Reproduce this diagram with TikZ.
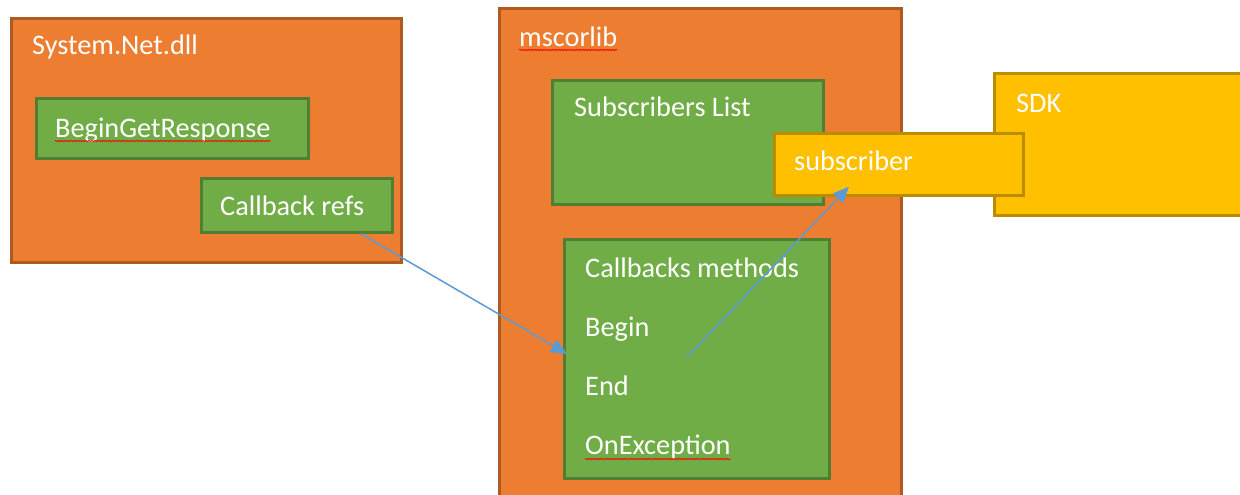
\documentclass[tikz,border=0pt]{standalone}
\usepackage{fontspec}
\setmainfont{Carlito}
\usetikzlibrary{arrows.meta,positioning,decorations.pathmorphing}
\definecolor{dllfill}{HTML}{ED7D31}
\definecolor{dllline}{HTML}{AE5A21}
\definecolor{partfill}{HTML}{70AD47}
\definecolor{partline}{HTML}{507E32}
\definecolor{sdkfill}{HTML}{FFC000}
\definecolor{sdkline}{HTML}{BC8C00}
\definecolor{linkblue}{HTML}{5B9BD5}

\begin{document}
\begin{tikzpicture}[x=1pt, y=-1pt,
  dllbox/.style={draw=dllline, fill=dllfill, line width=2.8pt,
    anchor=north west, inner sep=0pt},
  partbox/.style={draw=partline, fill=partfill, line width=2.8pt,
    anchor=north west, inner sep=0pt},
  sdkbox/.style={draw=sdkline, fill=sdkfill, line width=2.8pt,
    anchor=north west, inner sep=0pt},
  txt/.style={text=white, anchor=base west, inner sep=0pt,
    font=\fontsize{28.3}{34}\selectfont},
  spell/.style={draw=red, line width=0.8pt, decorate,
    decoration={snake, amplitude=0.7pt, segment length=3pt}},
  link/.style={draw=linkblue, line width=1.5pt,
    -{Triangle[length=16pt,width=14pt]}}]
\useasboundingbox (0,0) rectangle (1240,495);

% System.Net.dll
\node[dllbox, minimum width=390pt, minimum height=244pt] (sysnet) at (10,17) {};
\node[txt] (sysnettxt) at ([shift={(22,38)}]sysnet.north west) {System.Net.dll};
\node[partbox, minimum width=272pt, minimum height=60pt] (bgr) at (35,97) {};
\node[txt] (bgrtxt) at ([shift={(20,40)}]bgr.north west) {BeginGetResponse};
\node[partbox, minimum width=191pt, minimum height=54pt] (cbrefs) at (200,177) {};
\node[txt] (cbrefstxt) at ([shift={(20,38)}]cbrefs.north west) {Callback refs};

% mscorlib
\node[dllbox, minimum width=402pt, minimum height=500pt] (mscor) at (498,7) {};
\node[txt] (mscortxt) at ([shift={(21,40)}]mscor.north west) {mscorlib};
\node[partbox, minimum width=271pt, minimum height=124pt] (sublist) at (551,79) {};
\node[txt] (sublisttxt) at ([shift={(23,38)}]sublist.north west) {Subscribers List};
\node[partbox, minimum width=265pt, minimum height=239pt] (methods) at (563,238) {};
\node[txt] (m1) at ([shift={(22,39)}]methods.north west) {Callbacks methods};
\node[txt, below=59pt of m1.base west, anchor=base west] (m2) {Begin};
\node[txt, below=59pt of m2.base west, anchor=base west] (m3) {End};
\node[txt, below=59pt of m3.base west, anchor=base west] (m4) {OnException};

% SDK
\node[sdkbox, minimum width=260pt, minimum height=142pt] (sdk) at (993,72) {};
\node[txt] (sdktxt) at ([shift={(23,40)}]sdk.north west) {SDK};
\node[sdkbox, minimum width=249pt, minimum height=62pt] (sub) at (773,132) {};
\node[txt] (subtxt) at ([shift={(21,38)}]sub.north west) {subscriber};

% spelling marks
\draw[spell] ([yshift=-4pt]bgrtxt.base west) -- ([yshift=-4pt]bgrtxt.base east);
\draw[spell] ([yshift=-3pt]mscortxt.base west) -- ([yshift=-3pt]mscortxt.base east);
\draw[spell] ([yshift=-5pt]m4.base west) -- ([yshift=-5pt]m4.base east);

% links
\coordinate (endpt) at (687,357);
\draw[link] ([xshift=64pt]cbrefs.south) -- ([xshift=4pt,yshift=5pt]methods.west);
\draw[link] (endpt) -- ([xshift=-50pt,yshift=10pt]sub.south);
\end{tikzpicture}
\end{document}
